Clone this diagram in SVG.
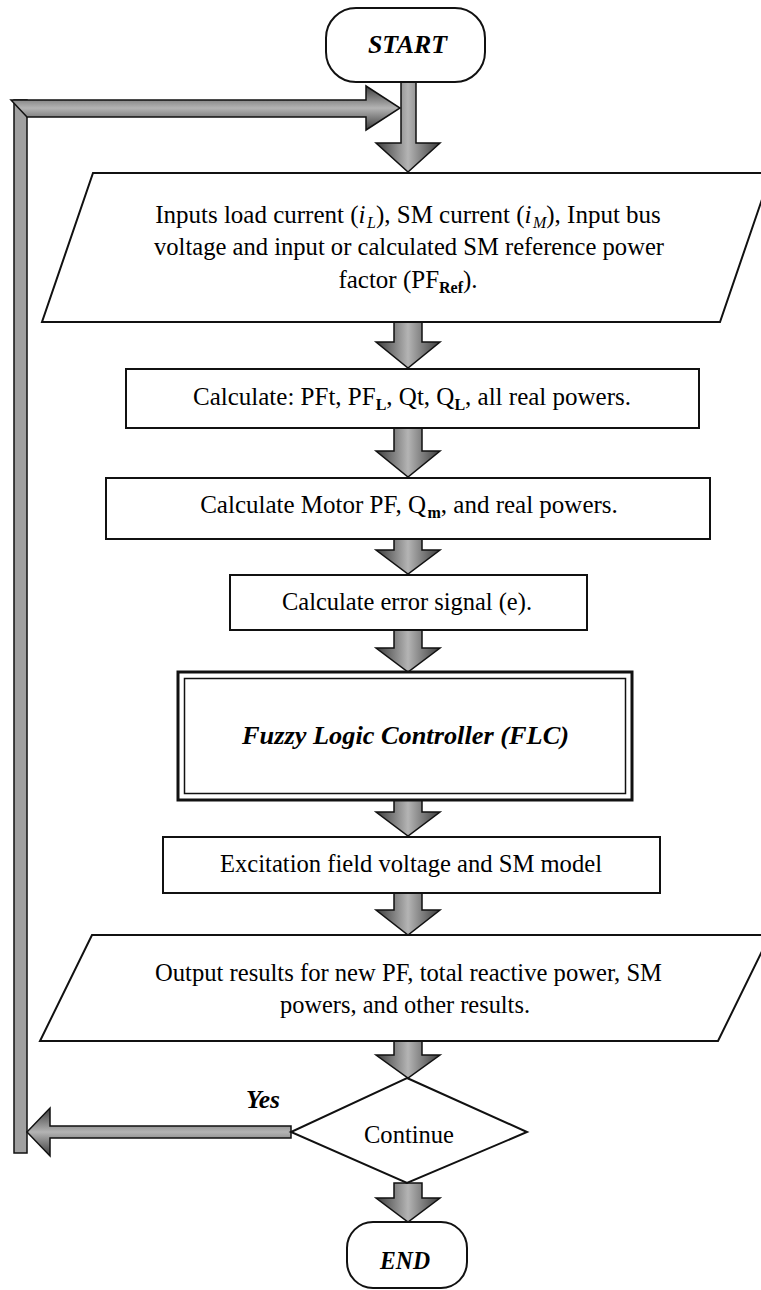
<svg xmlns="http://www.w3.org/2000/svg" width="761" height="1290" viewBox="0 0 761 1290">
  <style>
    .box { fill: #ffffff; stroke: #111111; stroke-width: 2; }
    .term { fill: #ffffff; stroke: #111111; stroke-width: 2; }
    .arrow-v { fill: url(#gradV); stroke: #111111; stroke-width: 1.5; stroke-linejoin: miter; }
    .arrow-h { fill: url(#gradH); stroke: #111111; stroke-width: 1.5; stroke-linejoin: miter; }
    .bar { fill: #a0a0a0; stroke: #111111; stroke-width: 1.5; }
    text { font-family: "Liberation Serif", "Times New Roman", serif; font-size: 25px; fill: #000000; }
    .c { text-anchor: middle; }
    .bi { font-weight: bold; font-style: italic; }
    .sub { font-size: 16px; }
  </style>
  <defs>
    <linearGradient id="gradV" x1="0" y1="0" x2="1" y2="0">
      <stop offset="0" stop-color="#3c3c3c"/>
      <stop offset="0.5" stop-color="#b4b4b4"/>
      <stop offset="1" stop-color="#3c3c3c"/>
    </linearGradient>
    <linearGradient id="gradH" x1="0" y1="0" x2="0" y2="1">
      <stop offset="0" stop-color="#3c3c3c"/>
      <stop offset="0.5" stop-color="#b4b4b4"/>
      <stop offset="1" stop-color="#3c3c3c"/>
    </linearGradient>
  </defs>

  <!-- connectors -->
  <g id="connectors">
    <!-- loop-back bar on the left -->
    <rect class="bar" x="14" y="100" width="13" height="1053"/>
    <!-- loop-back into the main flow -->
    <polygon class="arrow-h" points="11,100 366,100 366,86 400,108 366,130 366,117 27,117"/>
    <!-- START to inputs -->
    <polygon class="arrow-v" points="401,82 416,82 416,143 440,143 408,172 376,143 401,143"/>
    <!-- inputs to calculate -->
    <polygon class="arrow-v" points="394,322 422,322 422,342 440,342 408,368 376,342 394,342"/>
    <!-- calculate to motor -->
    <polygon class="arrow-v" points="394,428 422,428 422,451 440,451 408,477 376,451 394,451"/>
    <!-- motor to error signal -->
    <polygon class="arrow-v" points="394,539 422,539 422,550 440,550 408,574 376,550 394,550"/>
    <!-- error signal to FLC -->
    <polygon class="arrow-v" points="394,630 422,630 422,648 440,648 408,672 376,648 394,648"/>
    <!-- FLC to excitation -->
    <polygon class="arrow-v" points="394,800 422,800 422,812 440,812 408,836 376,812 394,812"/>
    <!-- excitation to output -->
    <polygon class="arrow-v" points="394,893 422,893 422,910 440,910 408,935 376,910 394,910"/>
    <!-- output to decision -->
    <polygon class="arrow-v" points="394,1041 422,1041 422,1055 440,1055 408,1078 376,1055 394,1055"/>
    <!-- decision to END -->
    <polygon class="arrow-v" points="394,1183 422,1183 422,1198 440,1198 408,1222 376,1198 394,1198"/>
    <!-- Yes branch back to the loop bar -->
    <polygon class="arrow-h" points="291,1126 50,1126 50,1108 27,1132 50,1156 50,1138 291,1138"/>
    <text class="bi" x="246" y="1108" textLength="34" lengthAdjust="spacingAndGlyphs" font-size="22">Yes</text>
  </g>

  <g id="start">
    <rect class="term" x="326" y="8" width="159" height="74" rx="30" ry="30"/>
    <text class="bi" x="368" y="53" textLength="79" lengthAdjust="spacingAndGlyphs">START</text>
  </g>

  <g id="inputs">
    <polygon class="box" points="93,173 771,173 720,322 42,322"/>
    <text class="c" x="408" y="223">Inputs load current (<tspan font-style="italic">i</tspan><tspan class="sub" font-style="italic" dx="1.5" dy="5">L</tspan><tspan dy="-5">), SM current (</tspan><tspan font-style="italic">i</tspan><tspan class="sub" font-style="italic" dx="1.5" dy="5">M</tspan><tspan dy="-5">), Input bus</tspan></text>
    <text x="154" y="255" textLength="510" lengthAdjust="spacingAndGlyphs">voltage and input or calculated SM reference power</text>
    <text class="c" x="408" y="288">factor (PF<tspan class="sub" font-weight="bold" dy="5">Ref</tspan><tspan dy="-5">).</tspan></text>
  </g>

  <g id="calc-totals">
    <rect class="box" x="126" y="369" width="573" height="59"/>
    <text class="c" x="412" y="405">Calculate: PFt, PF<tspan class="sub" font-weight="bold" dy="5">L</tspan><tspan dy="-5">, Qt, Q</tspan><tspan class="sub" font-weight="bold" dy="5">L</tspan><tspan dy="-5">, all real powers.</tspan></text>
  </g>

  <g id="calc-motor">
    <rect class="box" x="106" y="478" width="604" height="61"/>
    <text class="c" x="409" y="513">Calculate Motor PF, Q<tspan class="sub" font-weight="bold" dx="1.5" dy="5">m</tspan><tspan dy="-5">, and real powers.</tspan></text>
  </g>

  <g id="calc-error">
    <rect class="box" x="230" y="575" width="357" height="55"/>
    <text x="282" y="610" textLength="250" lengthAdjust="spacingAndGlyphs">Calculate error signal (e).</text>
  </g>

  <g id="flc">
    <rect x="178" y="672" width="454" height="128" fill="#ffffff" stroke="#111111" stroke-width="3"/>
    <rect x="184.5" y="678.5" width="441" height="115" fill="none" stroke="#111111" stroke-width="1.5"/>
    <text class="bi" x="242" y="744" textLength="327" lengthAdjust="spacingAndGlyphs">Fuzzy Logic Controller (FLC)</text>
  </g>

  <g id="excitation">
    <rect class="box" x="163" y="837" width="497" height="56"/>
    <text x="220" y="872" textLength="382" lengthAdjust="spacingAndGlyphs">Excitation field voltage and SM model</text>
  </g>

  <g id="outputs">
    <polygon class="box" points="92,935 770,935 718,1041 40,1041"/>
    <text x="155" y="981" textLength="507" lengthAdjust="spacingAndGlyphs">Output results for new PF, total reactive power, SM</text>
    <text x="280" y="1013" textLength="250" lengthAdjust="spacingAndGlyphs">powers, and other results.</text>
  </g>

  <g id="continue">
    <polygon class="box" points="407,1078 527,1132 407,1183 291,1132"/>
    <text x="364" y="1143" textLength="90" lengthAdjust="spacingAndGlyphs">Continue</text>
  </g>

  <g id="end">
    <rect class="term" x="347" y="1222" width="120" height="66" rx="26" ry="26"/>
    <text class="bi" x="380" y="1269" textLength="50" lengthAdjust="spacingAndGlyphs">END</text>
  </g>
</svg>
